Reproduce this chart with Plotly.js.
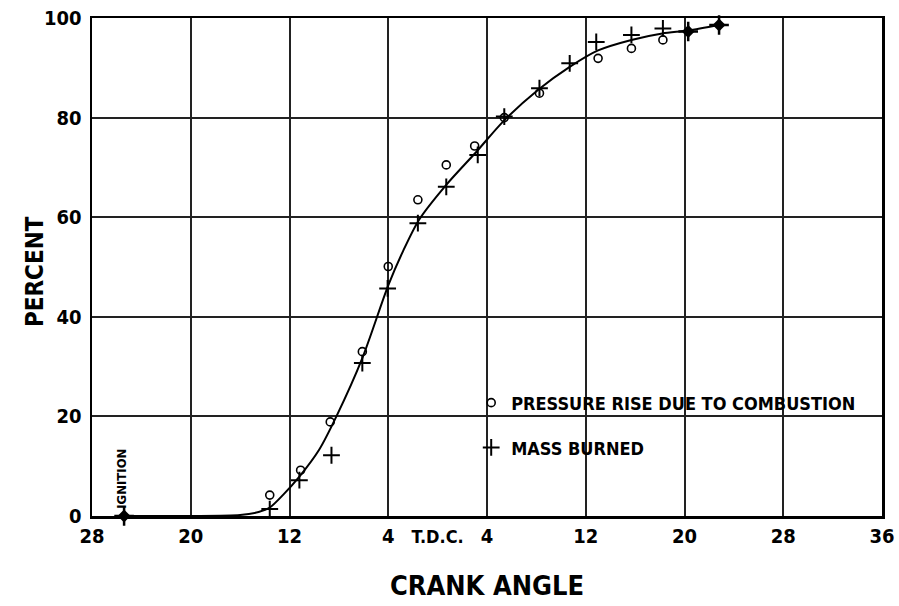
<!DOCTYPE html>
<html>
<head>
<meta charset="utf-8">
<script src="https://cdn.plot.ly/plotly-3.0.1.min.js"></script>
<style>html,body{margin:0;padding:0;background:#fff;}#chart{width:899px;height:606px;}</style>
</head>
<body>
<div id="chart"></div>
<script>
// Smooth fitted curve
const curveX = [-25.4, -20, -16, -14.5, -13.6, -12.5, -11.2, -9.6, -8.2, -6.1, -4.0, -2.8, -1.5, 0.7, 3.2, 5.3, 8.2, 10.7, 13.0, 15.7, 18.2, 20.3, 22.8];
const curveY = [0, 0, 0.2, 0.8, 1.7, 4.3, 7.9, 13.3, 20, 31.7, 46.3, 53.2, 59.5, 66.5, 73.3, 79.2, 85.7, 90.2, 93.5, 95.6, 96.9, 97.5, 98.6];

// Pressure rise due to combustion (o)
const pressureX = [-13.6, -11.1, -8.7, -6.1, -4.0, -1.6, 0.7, 3.0, 5.4, 8.25, 13.0, 15.7, 18.25];
const pressureY = [4.2, 9.2, 18.9, 33.0, 50.1, 63.5, 70.5, 74.3, 80.0, 84.9, 91.9, 93.9, 95.6];

// Mass burned (+)
const massX = [-13.6, -11.2, -8.6, -6.1, -4.05, -1.6, 0.7, 3.25, 5.4, 8.25, 10.7, 12.85, 15.7, 18.25];
const massY = [1.4, 7.2, 12.2, 30.7, 45.7, 58.8, 66.1, 72.5, 80.2, 85.9, 90.9, 95.2, 96.6, 97.9];

// Coincident points (both series)
const bothX = [-25.4, 20.3, 22.8];
const bothY = [0, 97.3, 98.6];

// Axis ticks
const xTickVals = [-28, -20, -12, -4, 4, 12, 20, 28, 36];
const xTickText = ['28', '20', '12', '4', '4', '12', '20', '28', '36'];
const tdcVals = [0];
const tdcText = ['T.D.C.'];
const yTickVals = [0, 20, 40, 60, 80, 100];

const FONT = '"DejaVu Sans Condensed", "Liberation Sans Narrow", "DejaVu Sans", sans-serif';

const traces = [
  {x: curveX, y: curveY, mode: 'lines', type: 'scatter', line: {color: '#000', width: 2, shape: 'spline', smoothing: 0.8},
   showlegend: false, hoverinfo: 'skip', cliponaxis: false, xaxis: 'x2'},
  {x: pressureX, y: pressureY, mode: 'markers', type: 'scatter', name: 'PRESSURE RISE DUE TO COMBUSTION',
   marker: {symbol: 'circle-open', size: 8, color: '#000', line: {width: 1.6, color: '#000'}}, cliponaxis: false, legend: 'legend'},
  {x: massX, y: massY, mode: 'markers', type: 'scatter', name: 'MASS BURNED',
   marker: {symbol: 'cross-thin-open', size: 12, color: '#000', line: {width: 2, color: '#000'}}, cliponaxis: false, legend: 'legend2'},
  {x: bothX, y: bothY, mode: 'markers', type: 'scatter', showlegend: false,
   marker: {symbol: 'diamond', size: 10, color: '#000'}, cliponaxis: false},
  {x: bothX, y: bothY, mode: 'markers', type: 'scatter', showlegend: false,
   marker: {symbol: 'cross-thin-open', size: 14, color: '#000', line: {width: 2.5, color: '#000'}}, cliponaxis: false}
];

const layout = {
  width: 899, height: 606,
  margin: {l: 92, r: 17, t: 18, b: 90},
  paper_bgcolor: '#fff', plot_bgcolor: '#fff',
  font: {family: FONT, color: '#000', weight: 'bold'},
  xaxis: {
    range: [-28, 36], tickmode: 'array', tickvals: xTickVals, ticktext: xTickText,
    showgrid: true, gridcolor: '#222', gridwidth: 2, zeroline: false,
    showline: true, mirror: true, linecolor: '#000', linewidth: 2.5, ticks: '',
    tickfont: {size: 20, family: FONT, weight: 'bold'}, ticklabelstandoff: 0,
    title: {text: 'CRANK ANGLE', font: {size: 27, family: FONT, weight: 'bold'}, standoff: 30}
  },
  xaxis2: {
    overlaying: 'x', anchor: 'y', side: 'bottom', range: [-28, 36], tickmode: 'array',
    tickvals: tdcVals, ticktext: tdcText, showgrid: false, zeroline: false, showline: false, ticks: '',
    tickfont: {size: 18, family: FONT, weight: 'bold'}, ticklabelstandoff: 8
  },
  yaxis: {
    range: [0, 100], tickmode: 'array', tickvals: yTickVals,
    showgrid: true, gridcolor: '#222', gridwidth: 2, zeroline: false,
    showline: true, mirror: true, linecolor: '#000', linewidth: 2.5, ticks: '',
    tickfont: {size: 20, family: FONT, weight: 'bold'}, ticklabelstandoff: 4
  },
  legend: {x: 0.48, y: 0.227, xanchor: 'left', yanchor: 'middle', bgcolor: 'rgba(0,0,0,0)',
    font: {size: 18, family: FONT, weight: 'bold'}, itemwidth: 30},
  legend2: {x: 0.48, y: 0.137, xanchor: 'left', yanchor: 'middle', bgcolor: 'rgba(0,0,0,0)',
    font: {size: 18, family: FONT, weight: 'bold'}, itemwidth: 30},
  annotations: [
    {text: 'PERCENT', xref: 'paper', yref: 'paper', x: -0.072, y: 0.49, textangle: -90, showarrow: false,
     font: {size: 24, family: FONT, weight: 'bold'}, xanchor: 'center', yanchor: 'middle'},
    {text: 'IGNITION', xref: 'x', yref: 'y', x: -25.6, y: 7.4, textangle: -90, showarrow: false,
     font: {size: 13, family: FONT, weight: 'bold'}, xanchor: 'center', yanchor: 'middle'}
  ]
};

Plotly.newPlot('chart', traces, layout, {displayModeBar: false, staticPlot: true});
</script>
</body>
</html>
